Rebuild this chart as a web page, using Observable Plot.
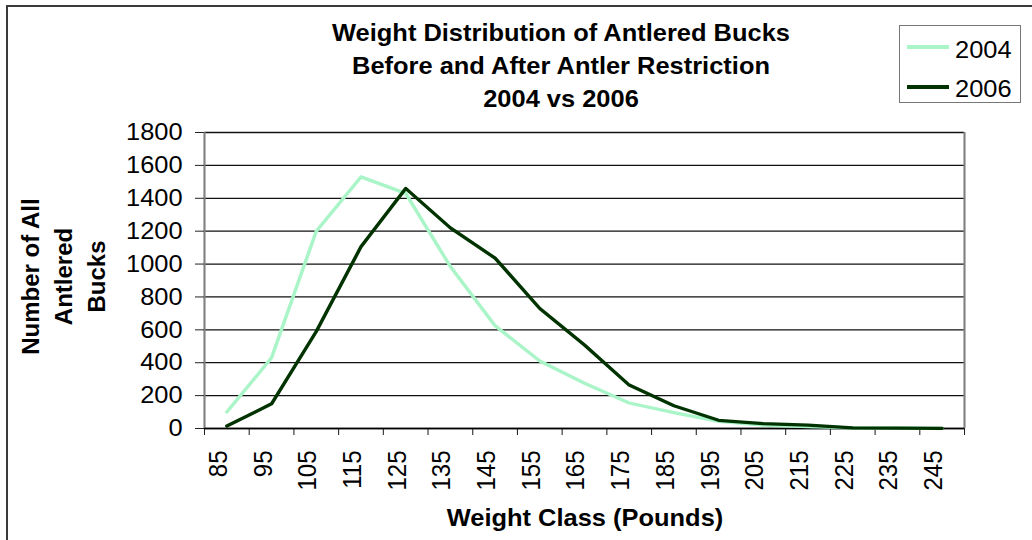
<!DOCTYPE html>
<html>
<head>
<meta charset="utf-8">
<script src="https://cdn.jsdelivr.net/npm/d3@7"></script>
<script src="https://cdn.jsdelivr.net/npm/@observablehq/plot@0.6"></script>
<style>
  html, body { margin: 0; padding: 0; background: #fff; }
  #page { position: relative; width: 1032px; height: 540px; overflow: hidden; background: #fff;
          font-family: "Liberation Sans", Arial, sans-serif; color: #000; }
  .frame { position: absolute; left: 6px; top: 5px; width: 1100px; height: 600px; border: 2px solid #3a3a3a; }
  .title { position: absolute; left: 561px; top: 16px; transform: translateX(-50%) scaleX(1.06);
           font-weight: bold; font-size: 24px; line-height: 33px; text-align: center; white-space: nowrap; }
  .ytitle { position: absolute; font-weight: bold; font-size: 24px; line-height: 33px; text-align: center;
            white-space: nowrap; width: 240px; height: 99px; left: -57.3px; top: 226.5px; transform: rotate(-90deg); }
  .xtitle { position: absolute; left: 585px; top: 501px; transform: translateX(-50%) scaleX(1.06);
            font-weight: bold; font-size: 24px; line-height: 33px; white-space: nowrap; }
  .legend { position: absolute; left: 899px; top: 25px; width: 122px; height: 78px; box-sizing: border-box;
            border: 1.5px solid #777; }
  .lsample { position: absolute; left: 907px; width: 42px; height: 3.5px; }
  .ltext { position: absolute; left: 955px; font-size: 24px; line-height: 33px; white-space: nowrap;
           transform: scaleX(1.06); transform-origin: 0 0; }
</style>
</head>
<body>
<div id="page">
  <div class="frame"></div>
  <div id="chart"></div>
  <div class="title">Weight Distribution of Antlered Bucks<br>Before and After Antler Restriction<br>2004 vs 2006</div>
  <div class="ytitle">Number of All<br>Antlered<br>Bucks</div>
  <div class="xtitle">Weight Class (Pounds)</div>
  <div id="legend"></div>
</div>
<script>
// ---- data ----
const weightClasses = [85, 95, 105, 115, 125, 135, 145, 155, 165, 175, 185, 195, 205, 215, 225, 235, 245];
const counts2004 = [100, 430, 1200, 1530, 1430, 985, 625, 410, 275, 155, 97, 43, 20, 12, 4, 2, 1];
const counts2006 = [15, 150, 590, 1105, 1460, 1220, 1036, 730, 508, 264, 138, 50, 30, 20, 4, 2, 1];
const seriesNames = ["2004", "2006"];
const seriesColors = ["#aaf5c8", "#003300"];
const yTicks = [0, 200, 400, 600, 800, 1000, 1200, 1400, 1600, 1800];
const xBoundaries = [80, 90, 100, 110, 120, 130, 140, 150, 160, 170, 180, 190, 200, 210, 220, 230, 240, 250];

const rows = weightClasses.flatMap((w, i) => [
  {w, n: counts2004[i], s: seriesNames[0]},
  {w, n: counts2006[i], s: seriesNames[1]}
]);

// horizontal stretch of the original rendering
const SVG_W = 974;

const svg = Plot.plot({
  width: SVG_W,
  height: 540,
  marginLeft: 192.5,
  marginRight: 64.2,
  marginTop: 132,
  marginBottom: 112,
  style: {fontFamily: '"Liberation Sans", Arial, sans-serif', fontSize: "24px", background: "transparent"},
  x: {type: "linear", domain: [80, 250]},
  y: {domain: [0, 1800]},
  color: {domain: seriesNames, range: seriesColors},
  marks: [
    Plot.gridY(yTicks, {stroke: "#111", strokeOpacity: 1, strokeWidth: 1.3}),
    Plot.ruleX([80, 250], {stroke: "#808080", strokeWidth: 2}),
    Plot.axisY({ticks: yTicks, tickSize: 8.5, tickPadding: 12.2, fontSize: 24, label: null, stroke: "#222",
      tickFormat: d => String(d)}),
    Plot.axisX({ticks: xBoundaries, tickSize: 7, tickFormat: () => "", label: null, stroke: "#222"}),
    Plot.text(weightClasses, {x: d => d, frameAnchor: "bottom", text: d => String(d), rotate: -90,
      textAnchor: "end", dy: 22, fontSize: 24, fill: "#000"}),
    Plot.ruleY([0], {stroke: "#000", strokeWidth: 1.5}),
    Plot.line(rows, {x: "w", y: "n", z: "s", stroke: "s", strokeWidth: 3.3})
  ]
});

svg.setAttribute("width", 1032);
svg.setAttribute("height", 540);
svg.setAttribute("viewBox", `0 0 ${SVG_W} 540`);
svg.setAttribute("preserveAspectRatio", "none");
svg.style.cssText = 'position:absolute; left:0; top:0; width:1032px; height:540px; max-width:none; background:transparent; overflow:visible; font-family:"Liberation Sans", Arial, sans-serif; font-size:24px;';
document.getElementById("chart").appendChild(svg);

// legend
const lg = document.getElementById("legend");
const box = document.createElement("div");
box.className = "legend";
lg.appendChild(box);
const sampleTops = [45, 85];
const textTops = [32.5, 71.5];
seriesNames.forEach((name, i) => {
  const s = document.createElement("div");
  s.className = "lsample";
  s.style.top = sampleTops[i] + "px";
  s.style.background = seriesColors[i];
  lg.appendChild(s);
  const t = document.createElement("div");
  t.className = "ltext";
  t.style.top = textTops[i] + "px";
  t.textContent = name;
  lg.appendChild(t);
});
</script>
</body>
</html>
